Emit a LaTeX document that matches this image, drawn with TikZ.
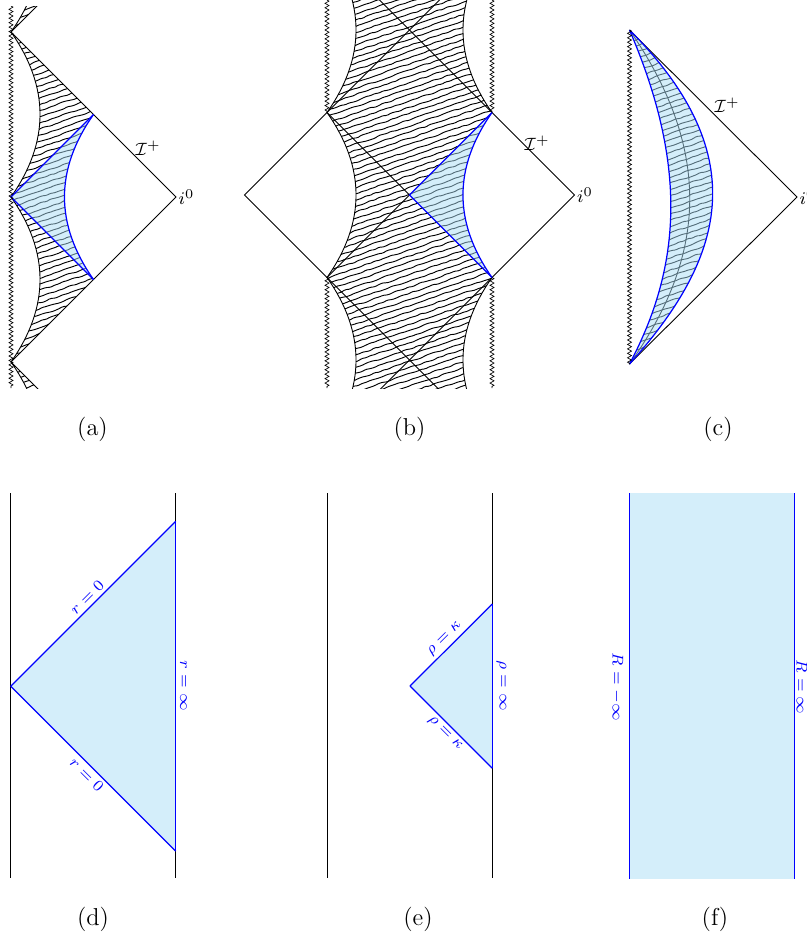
\documentclass[tikz,border=0pt]{standalone}
\usepackage{amsmath}
\usetikzlibrary{decorations.pathmorphing, calc}
\definecolor{patchblue}{RGB}{170,221,245}

\tikzset{
  singular/.style={line width=0.3pt, decorate, decoration={zigzag, segment length=2pt, amplitude=0.9pt}},
  hatchline/.style={line width=0.42pt, decorate, decoration={random steps, segment length=2pt, amplitude=0.33pt}, rounded corners=0.6pt},
  patch/.style={fill=patchblue, fill opacity=0.5},
  bnd/.style={blue, line width=0.55pt},
  lbl/.style={font=\scriptsize, text=blue, inner sep=1.5pt},
  inf/.style={font=\footnotesize, inner sep=1pt},
  subcap/.style={font=\fontsize{11}{13}\selectfont}
}

% rows of hatching: x from, x to, first y, number of rows
\newcommand\hatchrows[4]{%
  \foreach \n in {0,...,#4}
    \draw[hatchline] (#1,{#3+6.2*\n}) -- ++({#2-#1},{-0.34*(#2-#1)});
}

\begin{document}
\begin{tikzpicture}[x=0.45pt, y=-0.45pt]
\pgfmathsetseed{7}
\useasboundingbox (0,0) rectangle (807,945);

% (a)
\coordinate (a-c0) at (11,-133);
\coordinate (a-c1) at (11,32);
\coordinate (a-c2) at (11,197);
\coordinate (a-c3) at (11,362);
\coordinate (a-c4) at (11,527);
\coordinate (a-r1) at (93.5,114.5);
\coordinate (a-r2) at (93.5,279.5);
\coordinate (a-u) at (93.5,-50.5);
\coordinate (a-d) at (93.5,444.5);
\coordinate (a-i0) at (176,197);
\begin{scope}
  \clip (0,6) rectangle (200,388);
  \begin{scope}
    \clip (0,-50.5) -- (a-u) -- (a-c1) -- (a-r1)
      .. controls +(-38.7,55) and +(-38.7,-55) .. (a-r2) -- (a-c3) -- (a-d) -- (0,444.5) -- cycle;
    \clip (a-c0) .. controls +(38.7,55) and +(38.7,-55) .. (a-c1)
      .. controls +(38.7,55) and +(38.7,-55) .. (a-c2)
      .. controls +(38.7,55) and +(38.7,-55) .. (a-c3)
      .. controls +(38.7,55) and +(38.7,-55) .. (a-c4) -- (200,527) -- (200,-133) -- cycle;
    \hatchrows{0}{100}{0}{69}
  \end{scope}
  \fill[patch] (a-c2) -- (a-r1) .. controls +(-38.7,55) and +(-38.7,-55) .. (a-r2) -- cycle;
  \draw (a-c0) .. controls +(38.7,55) and +(38.7,-55) .. (a-c1)
    .. controls +(38.7,55) and +(38.7,-55) .. (a-c2)
    .. controls +(38.7,55) and +(38.7,-55) .. (a-c3)
    .. controls +(38.7,55) and +(38.7,-55) .. (a-c4);
  \draw (a-u) -- (a-c1) -- (a-i0) -- (a-c3) -- (a-d);
  \draw[bnd] (a-r1) -- (a-c2) -- (a-r2);
  \draw[bnd] (a-r1) .. controls +(-38.7,55) and +(-38.7,-55) .. (a-r2);
  \draw[singular] (11,6) -- (11,388);
\end{scope}
\node[inf] (a-scri) at (148,148) {$\mathcal{I}^+$};
\node[inf, anchor=west] (a-lab) at (a-i0) {$i^0$};
\node[subcap] (a-cap) at (92.5,429.5) {(a)};

% (b)
\coordinate (b-L) at (244.5,195);
\coordinate (b-LT) at (327,112.5);
\coordinate (b-LB) at (327,277.5);
\coordinate (b-C) at (409.5,195);
\coordinate (b-RT) at (492,112.5);
\coordinate (b-RB) at (492,277.5);
\coordinate (b-R) at (574.5,195);
\begin{scope}
  \clip (230,0) rectangle (600,388);
  \begin{scope}
    \clip (327,-52.5) .. controls +(38.7,55) and +(38.7,-55) .. (b-LT)
      .. controls +(38.7,55) and +(38.7,-55) .. (b-LB)
      .. controls +(38.7,55) and +(38.7,-55) .. (327,442.5) -- (600,442.5) -- (600,-52.5) -- cycle;
    \clip (492,-52.5) .. controls +(-38.7,55) and +(-38.7,-55) .. (b-RT)
      .. controls +(-38.7,55) and +(-38.7,-55) .. (b-RB)
      .. controls +(-38.7,55) and +(-38.7,-55) .. (492,442.5) -- (300,442.5) -- (300,-52.5) -- cycle;
    \hatchrows{320}{500}{-5}{74}
  \end{scope}
  \fill[patch] (b-C) -- (b-RT) .. controls +(-38.7,55) and +(-38.7,-55) .. (b-RB) -- cycle;
  \draw (327,-52.5) .. controls +(38.7,55) and +(38.7,-55) .. (b-LT)
    .. controls +(38.7,55) and +(38.7,-55) .. (b-LB)
    .. controls +(38.7,55) and +(38.7,-55) .. (327,442.5);
  \draw (492,-52.5) .. controls +(-38.7,55) and +(-38.7,-55) .. (b-RT);
  \draw (b-RB) .. controls +(-38.7,55) and +(-38.7,-55) .. (492,442.5);
  \draw (b-LT) -- (b-L) -- (b-LB);
  \draw (b-RT) -- (b-R) -- (b-RB);
  \draw (b-LT) -- (b-C) -- (b-LB);
  \draw (b-LT) -- +(130,-130);
  \draw (b-RT) -- +(-130,-130);
  \draw (b-LB) -- +(130,130);
  \draw (b-RB) -- +(-130,130);
  \draw[bnd] (b-RT) -- (b-C) -- (b-RB);
  \draw[bnd] (b-RT) .. controls +(-38.7,55) and +(-38.7,-55) .. (b-RB);
  \draw[singular] (327,0) -- (b-LT);
  \draw[singular] (b-LB) -- (327,388);
  \draw[singular] (492,0) -- (b-RT);
  \draw[singular] (b-RB) -- (492,388);
\end{scope}
\node[inf] (b-scri) at (537,143) {$\mathcal{I}^+$};
\node[inf, anchor=west] (b-lab) at (b-R) {$i^0$};
\node[subcap] (b-cap) at (409.5,429.5) {(b)};

% (c)
\coordinate (c-T) at (629.5,30);
\coordinate (c-B) at (629.5,364);
\coordinate (c-i0) at (797,197);
\begin{scope}
  \clip (c-T) .. controls +(128,128) and +(92.3,-102.6) .. (c-B)
    .. controls +(50.5,-95.3) and +(59.5,138.3) .. (c-T) -- cycle;
  \hatchrows{625}{715}{25}{62}
\end{scope}
\draw (c-T) .. controls +(90,130) and +(70,-98) .. (c-B);
\fill[patch] (c-T) .. controls +(128,128) and +(92.3,-102.6) .. (c-B)
  .. controls +(50.5,-95.3) and +(59.5,138.3) .. (c-T) -- cycle;
\draw (c-T) -- (c-i0) -- (c-B);
\draw[bnd] (c-T) .. controls +(128,128) and +(92.3,-102.6) .. (c-B);
\draw[bnd] (c-T) .. controls +(59.5,138.3) and +(50.5,-95.3) .. (c-B);
\draw[singular] (c-T) -- (c-B);
\node[inf] (c-scri) at (727,105) {$\mathcal{I}^+$};
\node[inf, anchor=west] (c-lab) at (c-i0) {$i^0$};
\node[subcap] (c-cap) at (718,429.5) {(c)};

% (d)
\coordinate (d-0) at (10.7,686.2);
\coordinate (d-1) at (175.7,521.2);
\coordinate (d-2) at (175.7,851.2);
\draw (10.7,493) -- (10.7,878);
\draw (175.7,493) -- (175.7,878);
\fill[patch] (d-0) -- (d-1) -- (d-2) -- cycle;
\draw[bnd] (d-0) -- node[lbl, sloped, above] (d-lab-u) {$r=0$} (d-1);
\draw[bnd] (d-0) -- node[lbl, sloped, below] (d-lab-d) {$r=0$} (d-2);
\draw[bnd] (d-1) -- (d-2);
\node[lbl, rotate=-90] (d-lab-r) at (183.5,686) {$r=\infty$};
\node[subcap] (d-cap) at (93,919) {(d)};

% (e)
\coordinate (e-0) at (410,686);
\coordinate (e-1) at (492.3,604);
\coordinate (e-2) at (492.3,768.3);
\draw (327,493) -- (327,878);
\draw (492.3,493) -- (492.3,878);
\fill[patch] (e-0) -- (e-1) -- (e-2) -- cycle;
\draw[bnd] (e-0) -- node[lbl, sloped, above] (e-lab-u) {$\rho=\kappa$} (e-1);
\draw[bnd] (e-0) -- node[lbl, sloped, below] (e-lab-d) {$\rho=\kappa$} (e-2);
\draw[bnd] (e-1) -- (e-2);
\node[lbl, rotate=-90] (e-lab-r) at (501.5,686) {$\rho=\infty$};
\node[subcap] (e-cap) at (418,919) {(e)};

% (f)
\coordinate (f-tl) at (629.3,493);
\coordinate (f-bl) at (629.3,879);
\coordinate (f-tr) at (794.3,493);
\coordinate (f-br) at (794.3,879);
\fill[patch] (f-tl) rectangle (f-br);
\draw[bnd] (f-tl) -- (f-bl);
\draw[bnd] (f-tr) -- (f-br);
\node[lbl, rotate=-90] (f-lab-l) at (617,687) {$R=-\infty$};
\node[lbl, rotate=-90] (f-lab-r) at (802,687) {$R=\infty$};
\node[subcap] (f-cap) at (715,919) {(f)};
\end{tikzpicture}
\end{document}
